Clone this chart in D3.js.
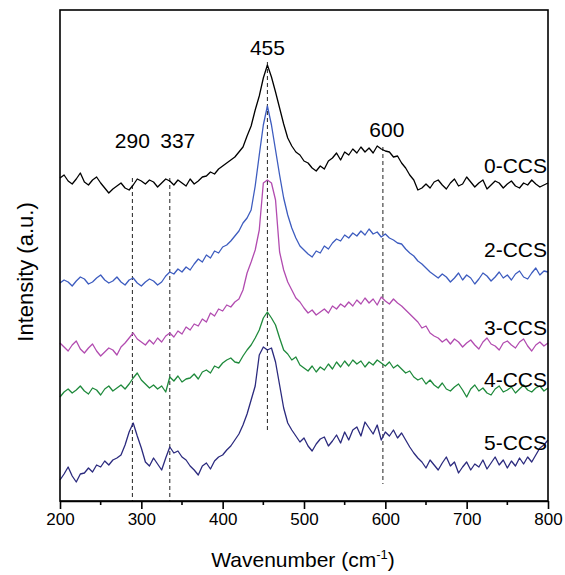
<!DOCTYPE html>
<html>
<head>
<meta charset="utf-8">
<script src="https://cdn.jsdelivr.net/npm/d3@7"></script>
<style>
  body { margin: 0; background: #fff; }
  text { font-family: 'Liberation Sans', Arial, sans-serif; fill: #000; }
</style>
</head>
<body>
<div id="chart"></div>
<script>
// Raman spectra, intensity in a.u. (stacked), wavenumber step 5 cm-1
const wavenumbers = d3.range(200, 801, 5);

const ccs0 = [323,326,320,317,322,328,319,316,321,324,
  318,313,308,312,315,318,313,311,316,322,
  320,317,321,319,314,318,322,320,316,321,
  318,315,322,317,320,324,325,329,327,332,
  335,338,341,344,349,354,365,375,391,405,
  423,436,424,409,393,377,363,355,349,346,
  340,338,333,330,335,332,340,343,348,341,
  349,346,352,348,354,349,353,348,355,352,
  350,349,344,345,338,333,326,321,311,313,
  317,313,319,321,316,312,318,322,315,317,
  324,319,314,318,321,312,316,320,318,313,
  317,320,315,313,318,316,321,317,314,316,318];

const ccs2 = [218,221,219,215,220,224,222,217,219,223,
  226,221,218,220,224,219,216,221,223,218,
  215,219,222,220,216,219,225,229,227,232,
  229,234,231,237,242,239,246,243,250,248,
  254,256,260,265,270,278,283,291,315,346,
  376,395,376,351,326,303,286,273,263,255,
  251,247,244,250,248,255,252,258,262,260,
  266,263,268,265,270,266,272,267,269,264,
  267,263,261,258,257,252,248,245,240,237,
  233,229,226,223,227,224,219,223,228,221,
  226,223,217,222,228,225,220,224,229,223,
  226,221,227,230,224,222,228,233,226,230,229];

const ccs3 = [158,154,150,156,160,152,148,153,157,150,
  145,149,153,151,146,154,158,163,168,162,
  159,156,161,157,163,159,165,168,164,170,
  167,174,171,177,175,182,179,188,185,192,
  190,196,194,199,202,211,228,239,251,271,
  318,321,318,301,249,231,219,211,203,199,
  193,188,191,186,189,192,188,195,192,197,
  194,199,195,201,197,203,198,202,196,204,
  200,197,202,198,195,191,187,183,179,173,
  175,168,165,163,159,162,157,162,159,154,
  158,161,156,152,159,163,157,155,151,158,
  160,156,153,159,162,155,150,156,159,155,158];

const ccs4 = [104,109,112,108,111,115,110,107,113,111,
  106,112,115,110,113,116,112,117,123,128,
  121,117,113,116,112,115,109,124,120,125,
  119,122,123,127,122,129,131,128,135,133,
  138,141,143,139,138,145,151,156,163,171,
  183,189,183,176,163,151,147,141,144,136,
  133,130,135,129,134,131,137,132,139,134,
  140,135,141,137,140,134,139,136,141,138,
  135,139,133,136,132,128,130,124,121,123,
  117,121,116,113,118,112,110,114,117,111,
  104,112,116,110,113,108,106,112,115,109,
  111,114,108,112,116,111,109,113,115,110,113];

const ccs5 = [21,27,34,25,19,27,28,33,29,36,
  34,40,36,41,43,46,56,69,78,65,
  53,39,35,43,37,31,43,54,48,50,
  44,41,35,31,26,35,38,32,40,44,
  46,51,55,61,67,76,87,101,115,146,
  154,151,153,139,116,93,78,71,65,59,
  63,55,50,57,62,64,55,60,66,58,
  69,61,71,74,65,79,73,67,76,61,
  69,65,71,63,68,61,54,48,43,39,
  33,41,36,31,38,44,35,39,28,34,
  39,31,37,34,41,32,38,44,36,41,
  33,40,35,43,37,44,39,46,53,56,61];

const seriesNames = ['0-CCS', '2-CCS', '3-CCS', '4-CCS', '5-CCS'];
const seriesValues = [ccs0, ccs2, ccs3, ccs4, ccs5];
const seriesColors = ['#000000', '#3d5cbf', '#b24cb0', '#1f8a3c', '#2b2a7e'];
// label anchor (right end) intensity for each series name
const labelLevels = [328, 244, 166, 114, 51];

// peak markers: where the dashed line sits, its span, and its text
const peakLabels = ['290', '337', '455', '600'];
const peakPos = [289, 335, 455, 597];
const peakTop = [323, 323, 439, 354];
const peakBottom = [0, 0, 69, 17];
const peakTextLevel = [353, 353, 446, 364];

const xTicks = [200, 300, 400, 500, 600, 700, 800];
const xMinor = [250, 350, 450, 550, 650, 750];

const width = 565, height = 575;
const margin = {left: 60, right: 17, top: 10, bottom: 74};

const svg = d3.select('#chart')
  .append('svg')
  .attr('width', width)
  .attr('height', height);

const x = d3.scaleLinear()
  .domain([200, 800])
  .range([margin.left, width - margin.right]);

const y = d3.scaleLinear()
  .domain([0, 491])
  .range([height - margin.bottom, margin.top]);

// dashed guide lines
svg.append('g')
  .selectAll('line')
  .data(peakPos)
  .join('line')
  .attr('x1', d => x(d))
  .attr('x2', d => x(d))
  .attr('y1', (d, i) => y(peakTop[i]))
  .attr('y2', (d, i) => y(peakBottom[i]))
  .style('stroke', '#222')
  .style('stroke-width', 1)
  .style('stroke-dasharray', '4,3');

// spectra
const line = d3.line()
  .x((d, i) => x(wavenumbers[i]))
  .y(d => y(d));

svg.append('g')
  .selectAll('path')
  .data(seriesValues)
  .join('path')
  .attr('d', d => line(d))
  .style('fill', 'none')
  .style('stroke', (d, i) => seriesColors[i])
  .style('stroke-width', 1.3)
  .style('stroke-linejoin', 'round');

// series names
svg.append('g')
  .selectAll('text')
  .data(seriesNames)
  .join('text')
  .attr('x', x(800) - 1)
  .attr('y', (d, i) => y(labelLevels[i]))
  .attr('text-anchor', 'end')
  .style('font-size', '21px')
  .text(d => d);

// peak labels
svg.append('g')
  .selectAll('text')
  .data(peakLabels)
  .join('text')
  .attr('x', (d, i) => x(peakPos[i]) + (i == 3 ? 4 : 0) + (i == 1 ? 8 : 0))
  .attr('y', (d, i) => y(peakTextLevel[i]))
  .attr('text-anchor', 'middle')
  .style('font-size', '21px')
  .text(d => d);

// frame
svg.append('rect')
  .attr('x', x(200))
  .attr('y', y(491))
  .attr('width', x(800) - x(200))
  .attr('height', y(0) - y(491))
  .style('fill', 'none')
  .style('stroke', '#000')
  .style('stroke-width', 1.6);

// x axis
const xAxis = svg.append('g')
  .attr('transform', `translate(0,${y(0)})`)
  .call(d3.axisBottom(x).tickValues(xTicks).tickSize(8).tickSizeOuter(0).tickPadding(4));
xAxis.select('.domain').style('stroke-width', 1.6);
xAxis.selectAll('.tick line').style('stroke-width', 1.6);
xAxis.selectAll('.tick text')
  .style('font-size', '17px')
  .style('font-family', "'Liberation Sans', Arial, sans-serif");

svg.append('g')
  .selectAll('line')
  .data(xMinor)
  .join('line')
  .attr('x1', d => x(d))
  .attr('x2', d => x(d))
  .attr('y1', y(0))
  .attr('y2', y(0) + 4)
  .style('stroke', '#000')
  .style('stroke-width', 1.6);

// axis titles
const xTitle = svg.append('text')
  .attr('x', (x(200) + x(800)) / 2 - 1)
  .attr('y', 567)
  .attr('text-anchor', 'middle')
  .style('font-size', '21px');
xTitle.append('tspan').text('Wavenumber (cm');
xTitle.append('tspan').attr('dy', -8).style('font-size', '13px').text('-1');
xTitle.append('tspan').attr('dy', 8).text(')');

svg.append('text')
  .attr('transform', 'translate(33,272) rotate(-90)')
  .attr('text-anchor', 'middle')
  .style('font-size', '22px')
  .text('Intensity (a.u.)');
</script>
</body>
</html>
